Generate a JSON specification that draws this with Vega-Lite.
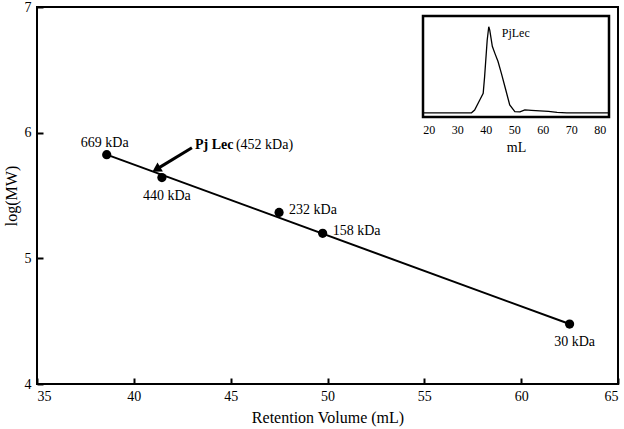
{
  "$schema": "https://vega.github.io/schema/vega-lite/v6.json",
  "width": 581,
  "height": 377,
  "autosize": {"type": "none"},
  "padding": {"left": 37, "top": 7, "right": 6, "bottom": 45},
  "background": "white",
  "config": {
    "font": "Liberation Serif",
    "view": {"stroke": "black", "strokeWidth": 2},
    "axis": {"grid": false, "domainColor": "black", "domainWidth": 2, "labelColor": "black", "titleColor": "black", "labelFont": "Liberation Serif", "titleFont": "Liberation Serif", "titleFontWeight": "normal"},
    "axisX": {"ticks": true, "tickColor": "black", "tickWidth": 2, "tickSize": 6},
    "axisY": {"ticks": true, "tickColor": "black", "tickWidth": 2, "tickSize": 6}
  },
  "datasets": {
    "std": [
      {"vol": 38.6, "logmw": 5.825, "label": "669 kDa"},
      {"vol": 41.45, "logmw": 5.643, "label": "440 kDa"},
      {"vol": 47.5, "logmw": 5.365, "label": "232 kDa"},
      {"vol": 49.75, "logmw": 5.199, "label": "158 kDa"},
      {"vol": 62.5, "logmw": 4.477, "label": "30 kDa"}
    ],
    "fit": [
      {"vol": 38.6, "logmw": 5.825},
      {"vol": 62.5, "logmw": 4.477}
    ],
    "arrow": [
      {"vol": 43.0, "logmw": 5.88, "vol2": 41.16, "logmw2": 5.708, "name": "Pj Lec", "mw": "(452 kDa)"}
    ],
    "chrom": [
      {"ml": 18, "abs": 0.04},
      {"ml": 30, "abs": 0.04},
      {"ml": 35, "abs": 0.042},
      {"ml": 36.1, "abs": 0.069},
      {"ml": 37.9, "abs": 0.168},
      {"ml": 39.1, "abs": 0.235},
      {"ml": 39.6, "abs": 0.4},
      {"ml": 40.5, "abs": 0.76},
      {"ml": 41.05, "abs": 0.894},
      {"ml": 41.4, "abs": 0.86},
      {"ml": 42.3, "abs": 0.7},
      {"ml": 43.2, "abs": 0.63},
      {"ml": 44.3, "abs": 0.55},
      {"ml": 45.5, "abs": 0.43},
      {"ml": 47, "abs": 0.27},
      {"ml": 48.4, "abs": 0.12},
      {"ml": 50.2, "abs": 0.053},
      {"ml": 52, "abs": 0.05},
      {"ml": 53.7, "abs": 0.07},
      {"ml": 56, "abs": 0.065},
      {"ml": 59, "abs": 0.06},
      {"ml": 62, "abs": 0.055},
      {"ml": 65, "abs": 0.045},
      {"ml": 68.4, "abs": 0.04},
      {"ml": 83, "abs": 0.04}
    ],
    "insetlabel": [
      {"ml": 45.6, "abs": 0.83, "label": "PjLec"}
    ]
  },
  "layer": [
    {
      "layer": [
        {
          "data": {"name": "fit"},
          "mark": {"type": "line", "color": "black", "strokeWidth": 2},
          "encoding": {
            "x": {"field": "vol", "type": "quantitative", "scale": {"domain": [35, 65], "nice": false, "zero": false},
              "axis": {"title": "Retention Volume (mL)", "values": [35, 40, 45, 50, 55, 60, 65], "format": "d", "domain": false, "ticks": true, "offset": -6, "zindex": 3, "labelPadding": 5, "labelFontSize": 14, "titleFontSize": 16, "titlePadding": 6}},
            "y": {"field": "logmw", "type": "quantitative", "scale": {"domain": [4, 7], "nice": false, "zero": false},
              "axis": {"title": "log(MW)", "values": [4, 5, 6, 7], "format": "d", "domain": false, "ticks": true, "offset": -6, "zindex": 3, "labelPadding": 6, "labelFontSize": 14, "titleFontSize": 16, "titlePadding": 5}}
          }
        },
        {
          "data": {"name": "std"},
          "mark": {"type": "circle", "color": "black", "opacity": 1, "size": 85},
          "encoding": {
            "x": {"field": "vol", "type": "quantitative"},
            "y": {"field": "logmw", "type": "quantitative"}
          }
        },
        {
          "data": {"name": "std"},
          "transform": [{"filter": "datum.label == '669 kDa'"}],
          "mark": {"type": "text", "fontSize": 14, "align": "center", "baseline": "middle", "dx": -2, "dy": -12, "color": "black"},
          "encoding": {
            "x": {"field": "vol", "type": "quantitative"},
            "y": {"field": "logmw", "type": "quantitative"},
            "text": {"field": "label"}
          }
        },
        {
          "data": {"name": "std"},
          "transform": [{"filter": "datum.label == '440 kDa' || datum.label == '30 kDa'"}],
          "mark": {"type": "text", "fontSize": 14, "align": "center", "baseline": "middle", "dx": 5, "dy": 18, "color": "black"},
          "encoding": {
            "x": {"field": "vol", "type": "quantitative"},
            "y": {"field": "logmw", "type": "quantitative"},
            "text": {"field": "label"}
          }
        },
        {
          "data": {"name": "std"},
          "transform": [{"filter": "datum.label == '232 kDa' || datum.label == '158 kDa'"}],
          "mark": {"type": "text", "fontSize": 14, "align": "left", "baseline": "middle", "dx": 10, "dy": -2, "color": "black"},
          "encoding": {
            "x": {"field": "vol", "type": "quantitative"},
            "y": {"field": "logmw", "type": "quantitative"},
            "text": {"field": "label"}
          }
        },
        {
          "data": {"name": "arrow"},
          "mark": {"type": "rule", "color": "black", "strokeWidth": 3},
          "encoding": {
            "x": {"field": "vol", "type": "quantitative"},
            "y": {"field": "logmw", "type": "quantitative"},
            "x2": {"field": "vol2"},
            "y2": {"field": "logmw2"}
          }
        },
        {
          "data": {"name": "arrow"},
          "mark": {"type": "point", "shape": "triangle-up", "filled": true, "color": "black", "opacity": 1, "size": 110, "angle": 239},
          "encoding": {
            "x": {"field": "vol2", "type": "quantitative"},
            "y": {"field": "logmw2", "type": "quantitative"}
          }
        },
        {
          "data": {"name": "arrow"},
          "mark": {"type": "text", "fontSize": 14, "fontWeight": "bold", "align": "left", "baseline": "middle", "dx": 3, "dy": -3, "color": "black"},
          "encoding": {
            "x": {"field": "vol", "type": "quantitative"},
            "y": {"field": "logmw", "type": "quantitative"},
            "text": {"field": "name"}
          }
        },
        {
          "data": {"name": "arrow"},
          "mark": {"type": "text", "fontSize": 14, "align": "left", "baseline": "middle", "dx": 44, "dy": -3, "color": "black"},
          "encoding": {
            "x": {"field": "vol", "type": "quantitative"},
            "y": {"field": "logmw", "type": "quantitative"},
            "text": {"field": "mw"}
          }
        }
      ]
    },
    {
      "layer": [
        {
          "data": {"values": [{}]},
          "mark": {"type": "rect", "fill": "white", "stroke": "black", "strokeWidth": 2.5},
          "encoding": {
            "x": {"datum": 18, "type": "quantitative", "scale": {"domain": [18, 83.2], "range": [386, 572], "nice": false, "zero": false},
              "axis": {"orient": "bottom", "offset": -267, "domain": false, "ticks": false, "values": [20, 30, 40, 50, 60, 70, 80], "labelFontSize": 12, "labelPadding": 7, "title": "mL", "titleFontSize": 14, "titlePadding": 5}},
            "x2": {"datum": 83.2},
            "y": {"datum": 0, "type": "quantitative", "scale": {"domain": [0, 1], "range": [110, 9], "nice": false, "zero": false}, "axis": null},
            "y2": {"datum": 1}
          }
        },
        {
          "data": {"name": "chrom"},
          "mark": {"type": "line", "color": "black", "strokeWidth": 1.3},
          "encoding": {
            "x": {"field": "ml", "type": "quantitative"},
            "y": {"field": "abs", "type": "quantitative"}
          }
        },
        {
          "data": {"name": "insetlabel"},
          "mark": {"type": "text", "fontSize": 12, "align": "left", "baseline": "middle", "color": "black"},
          "encoding": {
            "x": {"field": "ml", "type": "quantitative"},
            "y": {"field": "abs", "type": "quantitative"},
            "text": {"field": "label"}
          }
        }
      ]
    }
  ],
  "resolve": {"scale": {"x": "independent", "y": "independent"}, "axis": {"x": "independent", "y": "independent"}}
}
